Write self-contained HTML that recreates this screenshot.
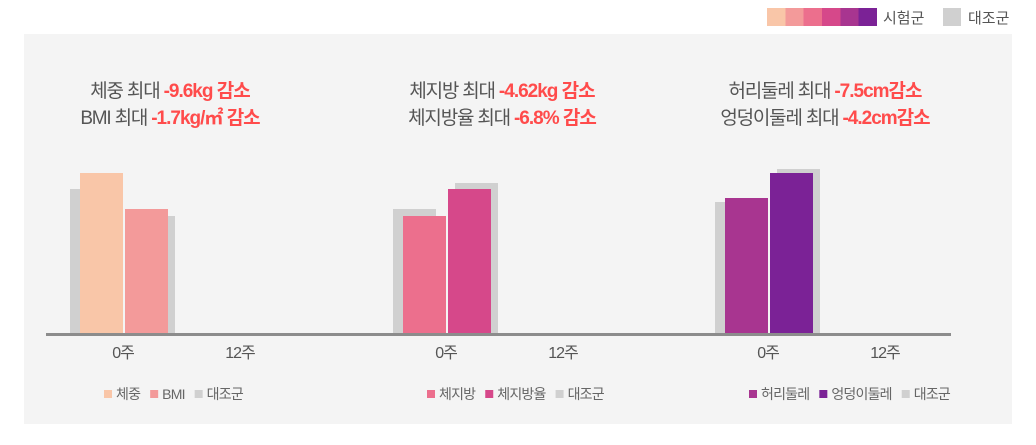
<!DOCTYPE html>
<html><head><meta charset="utf-8">
<style>
body{margin:0;width:1036px;height:445px;background:#fff;font-family:"Liberation Sans","Noto Sans CJK KR",sans-serif;position:relative;overflow:hidden}
.t{position:absolute;font-size:19px;color:#555;letter-spacing:-1.2px;white-space:nowrap;text-align:center}
.r{color:#ff4b4b;font-weight:bold;letter-spacing:-1px}
</style></head><body>
<div style="position:absolute;left:767px;top:8px;height:18px;font-size:15px;color:#555">
<span style="position:absolute;left:0;top:0;width:110px;height:18px;background:linear-gradient(90deg,#f9c6a8 0 16.6%,#f39a9a 16.6% 33.3%,#ec6f8d 33.3% 50%,#d6488a 50% 66.6%,#a83590 66.6% 83.3%,#7b2296 83.3%)"></span>
<span style="position:absolute;left:116px;top:-1px;white-space:nowrap">시험군</span>
<span style="position:absolute;left:176px;top:0;width:18px;height:18px;background:#d0d0d0"></span>
<span style="position:absolute;left:201px;top:-1px;white-space:nowrap">대조군</span>
</div>
<div style="position:absolute;left:24px;top:34px;width:988px;height:390px;background:#f4f4f4"></div>
<div class="t" style="left:40px;width:260px;top:76px">체중 최대 <span class="r">-9.6kg 감소</span><br>BMI 최대 <span class="r">-1.7kg/㎡ 감소</span></div>
<div class="t" style="left:372px;width:260px;top:76px">체지방 최대 <span class="r">-4.62kg 감소</span><br>체지방율 최대 <span class="r">-6.8% 감소</span></div>
<div class="t" style="left:695px;width:260px;top:76px">허리둘레 최대 <span class="r">-7.5cm감소</span><br>엉덩이둘레 최대 <span class="r">-4.2cm감소</span></div>
<svg id="c" width="1036" height="445" style="position:absolute;left:0;top:0"></svg>
<script>
const groupStarts=[80,403,725];
const testValues=[[161,125],[118,145],[136,161]];
const controlValues=[[145,118],[125,151],[132,165]];
const testColors=[["#f9c6a8","#f39a9a"],["#ec6f8d","#d6488a"],["#a83590","#7b2296"]];
const xLabels=["0주","12주"];
const legendLabels=[["체중","BMI","대조군"],["체지방","체지방율","대조군"],["허리둘레","엉덩이둘레","대조군"]];
const base=334,scale=1;
const y=v=>base-v*scale;
const svg=document.getElementById('c');const NS="http://www.w3.org/2000/svg";
function mk(t,a,p){const e=document.createElementNS(NS,t);for(const k in a)e.setAttribute(k,a[k]);(p||svg).appendChild(e);return e;}
groupStarts.forEach((gx,g)=>{
  [0,1].forEach(i=>{
    const cx=i==0?gx-10:gx+52;
    const r=mk('rect',{x:cx,y:y(controlValues[g][i]),width:43,height:base-y(controlValues[g][i]),fill:'#d0d0d0'});
    
  });
  [0,1].forEach(i=>{
    const r=mk('rect',{x:gx+i*45,y:y(testValues[g][i]),width:43,height:base-y(testValues[g][i]),fill:testColors[g][i]});
    
  });
  xLabels.forEach((l,i)=>{
    const t=mk('text',{x:gx+43+i*117,y:358,'text-anchor':'middle','font-size':16,fill:'#555','letter-spacing':'-1'});t.textContent=l;
    
  });
  const cols=[testColors[g][0],testColors[g][1],'#d0d0d0'];
  let lx=gx+24;
  legendLabels[g].forEach((l,i)=>{
    const s=mk('rect',{x:lx,y:390,width:8,height:8,fill:cols[i]});
    
    const t=mk('text',{x:lx+12,y:399,'font-size':14,fill:'#666','letter-spacing':'-0.8'});t.textContent=l;
    
    lx+=12+t.getComputedTextLength()+10;
  });
});
const ax=mk('rect',{x:46,y:333,width:905,height:3,fill:'#8c8c8c'});

</script>
</body></html>
